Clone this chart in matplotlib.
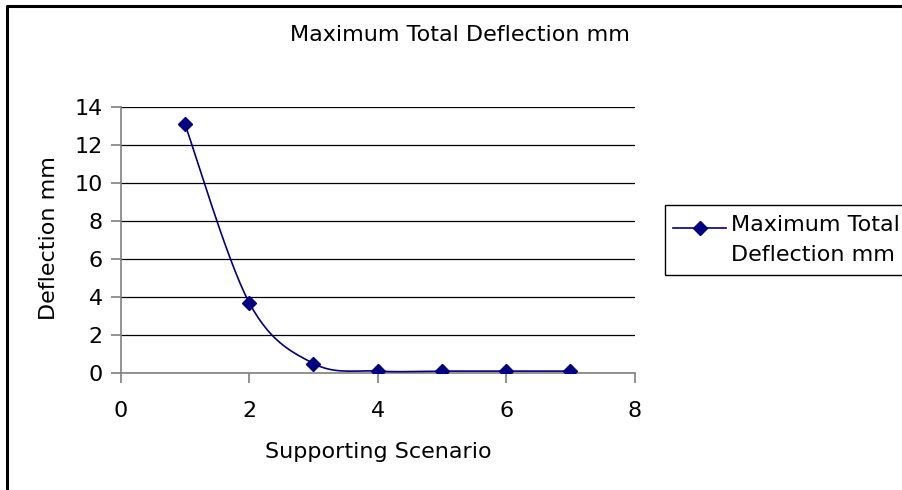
import numpy as np
import matplotlib.pyplot as plt
from matplotlib.lines import Line2D
from matplotlib.patches import Rectangle

plt.rcParams['font.family'] = ['DejaVu Sans']

scenario = [1, 2, 3, 4, 5, 6, 7]
deflection = [13.1, 3.7, 0.5, 0.1, 0.1, 0.1, 0.1]
series_name = "Maximum Total\nDeflection mm"
navy = "#000080"
W, H = 902, 490


def smooth_path(x, y, n=30):
    # Excel-like smoothed line: Catmull-Rom through the points
    x = np.asarray(x, float)
    y = np.asarray(y, float)
    px = np.concatenate([[x[0]], x, [x[-1]]])
    py = np.concatenate([[y[0]], y, [y[-1]]])
    xs, ys = [], []
    t = np.linspace(0, 1, n)
    for i in range(1, len(px) - 2):
        for p, out in ((px, xs), (py, ys)):
            p0, p1, p2, p3 = p[i - 1], p[i], p[i + 1], p[i + 2]
            m1 = (p2 - p0) / 2
            m2 = (p3 - p1) / 2
            h00 = 2 * t**3 - 3 * t**2 + 1
            h10 = t**3 - 2 * t**2 + t
            h01 = -2 * t**3 + 3 * t**2
            h11 = t**3 - t**2
            out.extend(h00 * p1 + h10 * m1 + h01 * p2 + h11 * m2)
    return xs, ys


fig = plt.figure(figsize=(W / 100, H / 100), dpi=100)
ax = fig.add_axes([120.8 / W, 1 - 373 / H, 513.8 / W, 265.7 / H])

sx, sy = smooth_path(scenario, deflection)
ax.plot(sx, sy, color=navy, lw=1.2, zorder=3)
ax.plot(scenario, deflection, ls='none', marker='D', ms=7.5, color=navy, zorder=4)

ax.set_xlim(0, 8)
ax.set_ylim(0, 14)
ax.set_xticks(range(0, 9, 2))
ax.set_yticks(range(0, 15, 2))
ax.yaxis.grid(True, color='black', lw=0.9)
ax.set_axisbelow(True)
for s in ['top', 'right']:
    ax.spines[s].set_visible(False)
for s in ['left', 'bottom']:
    ax.spines[s].set_color('#808080')
    ax.spines[s].set_linewidth(1.2)
ax.tick_params(axis='both', colors='#808080', length=7, width=1.2,
               labelsize=16, labelcolor='black')
ax.tick_params(axis='x', pad=13)
ax.tick_params(axis='y', pad=6)

fig.text(378 / W, 1 - 452 / H, "Supporting Scenario", ha='center', va='center',
         fontsize=16)
fig.text(49 / W, 1 - 238 / H, "Deflection mm", ha='center', va='center',
         rotation=90, fontsize=16)
fig.text(459.5 / W, 1 - 35 / H, "Maximum Total Deflection mm", ha='center',
         va='center', fontsize=16)

# legend box
fig.patches.append(Rectangle((665 / W, 1 - 275 / H), 0.3, 70 / H,
                             transform=fig.transFigure, fill=False,
                             ec='black', lw=1.0))
fig.lines.append(Line2D([673 / W, 726 / W], [1 - 228 / H] * 2,
                        transform=fig.transFigure, color=navy, lw=1.2))
fig.lines.append(Line2D([699.5 / W], [1 - 228 / H], transform=fig.transFigure,
                        color=navy, marker='D', ms=7.5, ls='none'))
fig.text(731 / W, 1 - 240 / H, series_name, ha='left', va='center',
         fontsize=16, linespacing=1.6)

# chart outer frame (cut off at right and bottom)
fig.lines.append(Line2D([7 / W, 7 / W, 1.0], [0.0, 1 - 6 / H, 1 - 6 / H],
                        transform=fig.transFigure, color='black', lw=2.2))

fig.savefig("out.png", dpi=100)
